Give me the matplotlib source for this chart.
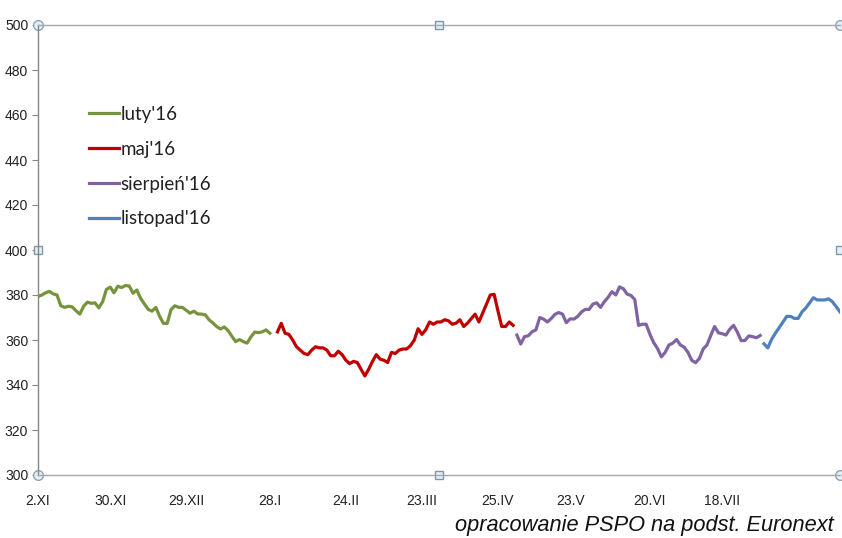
import numpy as np
import matplotlib
matplotlib.use("Agg")
import matplotlib.pyplot as plt

# trading-day index positions of the date labels
tick_pos = [0, 19, 39, 61, 81, 101, 121, 140, 161, 180]
tick_labels = ["2.XI", "30.XI", "29.XII", "28.I", "24.II", "23.III",
               "25.IV", "23.V", "20.VI", "18.VII"]

luty_start = 0
luty = [379.3, 380, 381, 381.6, 380.5, 380, 375.2, 374.5, 375, 374.7,
        373, 371.5, 375, 376.8, 376.3, 376.5, 374.3, 377, 382.5, 383.5,
        381, 383.9, 383.3, 384.2, 384, 380.8, 382.2, 378.5, 376, 373.6,
        372.8, 374.5, 370.5, 367.4, 367.4, 373.5, 375.2, 374.5, 374.5, 373.2,
        371.9, 372.8, 371.6, 371.5, 371.2, 369, 367.6, 366, 364.9, 365.8,
        364.2, 361.7, 359.3, 360.2, 359.3, 358.6, 361.3, 363.5, 363.3, 363.6,
        364.5, 363]

maj_start = 63
maj = [363.6, 367.4, 363, 362.5, 360, 357, 355.5, 354, 353.5, 355.5,
       357, 356.5, 356.5, 355.5, 353, 353, 355, 353.5, 351, 349.5,
       350.5, 350, 347, 344, 347, 350.5, 353.5, 351.5, 351, 350,
       354.5, 354, 355.5, 356, 356, 357.5, 360, 365, 362.5, 364.5,
       368, 367, 368, 368, 369, 368.5, 367, 367.5, 369, 366,
       367.5, 369.5, 371.5, 368, 372, 376, 380, 380.3, 373, 366,
       366, 368, 366.5]

sierpien_start = 126
sierpien = [362.2, 358.2, 361.5, 361.9, 363.7, 364.5, 370, 369.3, 368, 369.5,
            371.4, 372.2, 371.5, 367.7, 369.4, 369.3, 370.5, 372.5, 373.6, 373.6,
            376, 376.5, 374.5, 377, 379, 381.5, 380, 383.6, 382.8, 380.4,
            379.8, 378, 366.5, 367, 367, 362.5, 358.8, 356.2, 352.5, 354.5,
            357.8, 358.6, 360.2, 357.8, 356.8, 354.5, 351, 349.9, 351.8, 356,
            357.8, 362, 366, 363.2, 362.8, 362.2, 364.8, 366.5, 363.5, 359.7,
            359.8, 361.8, 361.5, 361, 362]

listopad_start = 191
listopad = [358.3, 356.5, 360.3, 363, 365.5, 368, 370.5, 370.5, 369.6, 369.6,
            372.5, 374.2, 376.5, 378.8, 377.8, 377.8, 377.8, 378.3, 377, 374.8,
            372.5]

series = [
    ("luty'16", luty_start, luty, "#77933C"),
    ("maj'16", maj_start, maj, "#C00000"),
    ("sierpień'16", sierpien_start, sierpien, "#8064A2"),
    ("listopad'16", listopad_start, listopad, "#4F81BD"),
]

tick_font = ["Liberation Sans", "DejaVu Sans"]

fig = plt.figure(figsize=(8.42, 5.38), dpi=100)
ax = fig.add_axes([38 / 842, 63 / 538, 802 / 842, 450 / 538])

for name, start, vals, col in series:
    x = np.arange(start, start + len(vals))
    ax.plot(x, vals, color=col, linewidth=2.3, label=name, solid_joinstyle="round")

ax.set_xlim(0, 211)
ax.set_ylim(300, 500)
ax.set_yticks(np.arange(300, 501, 20))
ax.set_xticks(tick_pos)
ax.set_xticklabels(tick_labels)

for lab in ax.get_xticklabels() + ax.get_yticklabels():
    lab.set_family(tick_font)
    lab.set_fontsize(10)
    lab.set_color("#222222")

ax.tick_params(axis="y", length=4, width=0.8, color="#868686", pad=3)
ax.tick_params(axis="x", length=0, pad=14)

for side in ["left", "bottom", "top"]:
    ax.spines[side].set_color("#A6A6A6")
    ax.spines[side].set_linewidth(1.0)
ax.spines["left"].set_color("#868686")
ax.spines["right"].set_visible(False)

# selection handles of the plot area
ax.plot([0, 1, 0, 1], [1, 1, 0, 0], "o", transform=ax.transAxes, clip_on=False,
        ms=7, mfc="#E3F1F7", mec="#8FA3B3", mew=1.0)
ax.plot([0.5, 0.5, 0, 1], [1, 0, 0.5, 0.5], "s", transform=ax.transAxes, clip_on=False,
        ms=5.5, mfc="#E3F1F7", mec="#7F96AA", mew=1.0)

leg = ax.legend(loc="upper left", bbox_to_anchor=(0.063, 0.82), frameon=False,
                handlelength=1.6, handletextpad=0.1, labelspacing=0.95,
                borderpad=0, borderaxespad=0,
                prop={"family": ["Lato", "DejaVu Sans"], "size": 13.5})
for t in leg.get_texts():
    t.set_color("#222222")

fig.text(0.99, 0.013, "opracowanie PSPO na podst. Euronext", ha="right", va="baseline",
         fontsize=15.7, style="italic", family=["Liberation Sans", "DejaVu Sans"],
         color="#111111")

fig.savefig("out.png", dpi=100)
plt.close()
